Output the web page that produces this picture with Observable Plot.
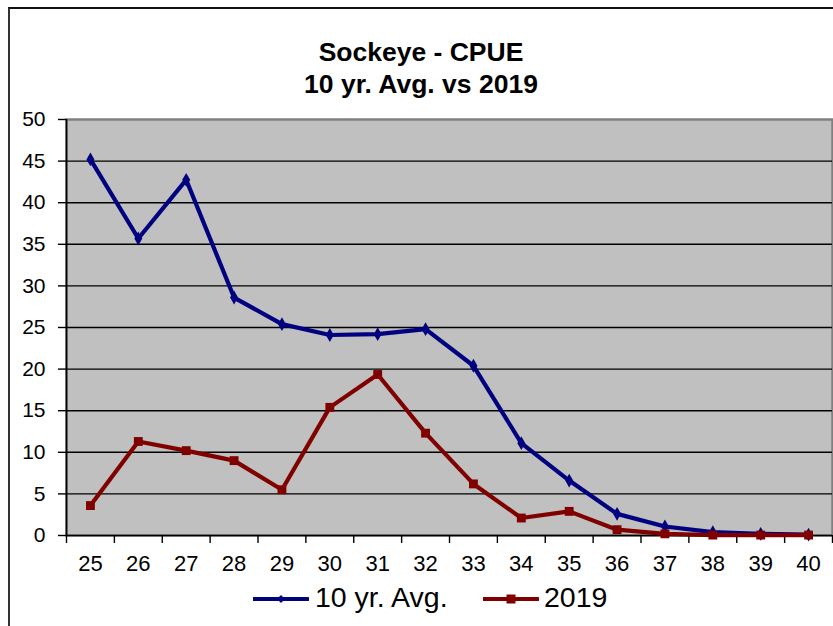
<!DOCTYPE html>
<html>
<head>
<meta charset="utf-8">
<script src="https://cdn.jsdelivr.net/npm/d3@7"></script>
<script src="https://cdn.jsdelivr.net/npm/@observablehq/plot@0.6"></script>
<style>
  html, body { margin: 0; padding: 0; background: #fff; }
  #wrap { position: relative; width: 833px; height: 626px; overflow: hidden; font-family: "Liberation Sans", Arial, sans-serif; color: #000; }
  #frame { position: absolute; left: 8px; top: 7px; width: 840px; height: 640px; border-left: 2px solid #333; border-top: 2px solid #111; box-sizing: border-box; }
  #title { position: absolute; left: 0; top: 36px; width: 842px; text-align: center; font-weight: bold; font-size: 26.5px; line-height: 32px; }
  #chart { position: absolute; left: 0; top: 100px; }
  .leg { position: absolute; top: 583px; font-size: 28.5px; line-height: 28.5px; white-space: nowrap; }
  .leg svg { position: absolute; }
</style>
</head>
<body>
<div id="wrap">
  <div id="frame"></div>
  <div id="title">Sockeye - CPUE<br>10 yr. Avg. vs 2019</div>
  <div id="chart"></div>
  <div class="leg" id="leg1" style="left:253px"></div>
  <div class="leg" id="leg2" style="left:483px"></div>
</div>
<script>
// Data
const categories = [25, 26, 27, 28, 29, 30, 31, 32, 33, 34, 35, 36, 37, 38, 39, 40];
const avg10 = [45.2, 35.7, 42.75, 28.6, 25.4, 24.1, 24.2, 24.8, 20.4, 11.1, 6.6, 2.6, 1.08, 0.4, 0.2, 0.1];
const y2019 = [3.6, 11.3, 10.2, 9.0, 5.5, 15.4, 19.35, 12.3, 6.2, 2.1, 2.9, 0.7, 0.2, 0.05, 0.05, 0.05];
const yTicks = [0, 5, 10, 15, 20, 25, 30, 35, 40, 45, 50];
const seriesNames = ["10 yr. Avg.", "2019"];
const seriesColors = ["#000080", "#800000"];

const rows = [];
categories.forEach((c, i) => {
  rows.push({ len: c, v: avg10[i], s: seriesNames[0] });
  rows.push({ len: c, v: y2019[i], s: seriesNames[1] });
});
const blueRows = rows.filter(d => d.s === seriesNames[0]);
const redRows = rows.filter(d => d.s === seriesNames[1]);
const boundaries = categories.map(c => c - 0.5).concat([categories[categories.length - 1] + 0.5]);
const xDomain = [boundaries[0], boundaries[boundaries.length - 1]];

const chart = Plot.plot({
  width: 833,
  height: 480,
  marginTop: 19,
  marginBottom: 45,
  marginLeft: 66,
  marginRight: 1,
  style: { background: "transparent", fontFamily: "'Liberation Sans', Arial, sans-serif", color: "#000", overflow: "visible" },
  x: { domain: xDomain },
  y: { domain: [0, 50] },
  marks: [
    Plot.frame({ fill: "#C0C0C0", stroke: "#808080", strokeWidth: 2.5 }),
    Plot.ruleY(yTicks.filter(v => v > 0 && v < 50), { stroke: "#000", strokeWidth: 1.4 }),
    Plot.ruleY([0], { stroke: "#000", strokeWidth: 1.6 }),
    Plot.ruleX([xDomain[0]], { stroke: "#000", strokeWidth: 1.6 }),
    Plot.axisY({ ticks: yTicks, tickSize: 8, tickPadding: 13, fontSize: 21, stroke: "#000", strokeWidth: 1.4, label: null }),
    Plot.axisX({ ticks: boundaries, tickSize: 8, tickFormat: () => "", stroke: "#000", strokeWidth: 1.4, label: null }),
    Plot.axisX({ ticks: categories, tickSize: 0, tickPadding: 20, fontSize: 22, label: null }),
    Plot.line(blueRows, { x: "len", y: "v", stroke: seriesColors[0], strokeWidth: 4.2, strokeLinejoin: "round" }),
    Plot.dot(blueRows, { x: "len", y: "v", fill: seriesColors[0], symbol: "diamond", r: 4.2 }),
    Plot.line(redRows, { x: "len", y: "v", stroke: seriesColors[1], strokeWidth: 4.2, strokeLinejoin: "round" }),
    Plot.dot(redRows, { x: "len", y: "v", fill: seriesColors[1], symbol: "square", r: 5 })
  ]
});
document.getElementById("chart").appendChild(chart);

// Legend
function legendItem(el, name, color, kind) {
  const ns = "http://www.w3.org/2000/svg";
  const svg = document.createElementNS(ns, "svg");
  svg.setAttribute("width", 56); svg.setAttribute("height", 14);
  svg.style.left = "0px"; svg.style.top = "9px";
  const ln = document.createElementNS(ns, "line");
  ln.setAttribute("x1", 0); ln.setAttribute("x2", 55); ln.setAttribute("y1", 7); ln.setAttribute("y2", 7);
  ln.setAttribute("stroke", color); ln.setAttribute("stroke-width", 4); ln.setAttribute("stroke-linecap", "round");
  svg.appendChild(ln);
  const m = document.createElementNS(ns, "path");
  m.setAttribute("d", kind === "diamond" ? "M28,3L32,7L28,11L24,7Z" : "M23.5,2.5H32.5V11.5H23.5Z");
  m.setAttribute("fill", color);
  svg.appendChild(m);
  el.appendChild(svg);
  const t = document.createElement("span");
  t.textContent = name;
  t.style.marginLeft = (kind === "diamond" ? 62 : 61) + "px";
  el.appendChild(t);
}
legendItem(document.getElementById("leg1"), seriesNames[0], seriesColors[0], "diamond");
legendItem(document.getElementById("leg2"), seriesNames[1], seriesColors[1], "square");
</script>
</body>
</html>
